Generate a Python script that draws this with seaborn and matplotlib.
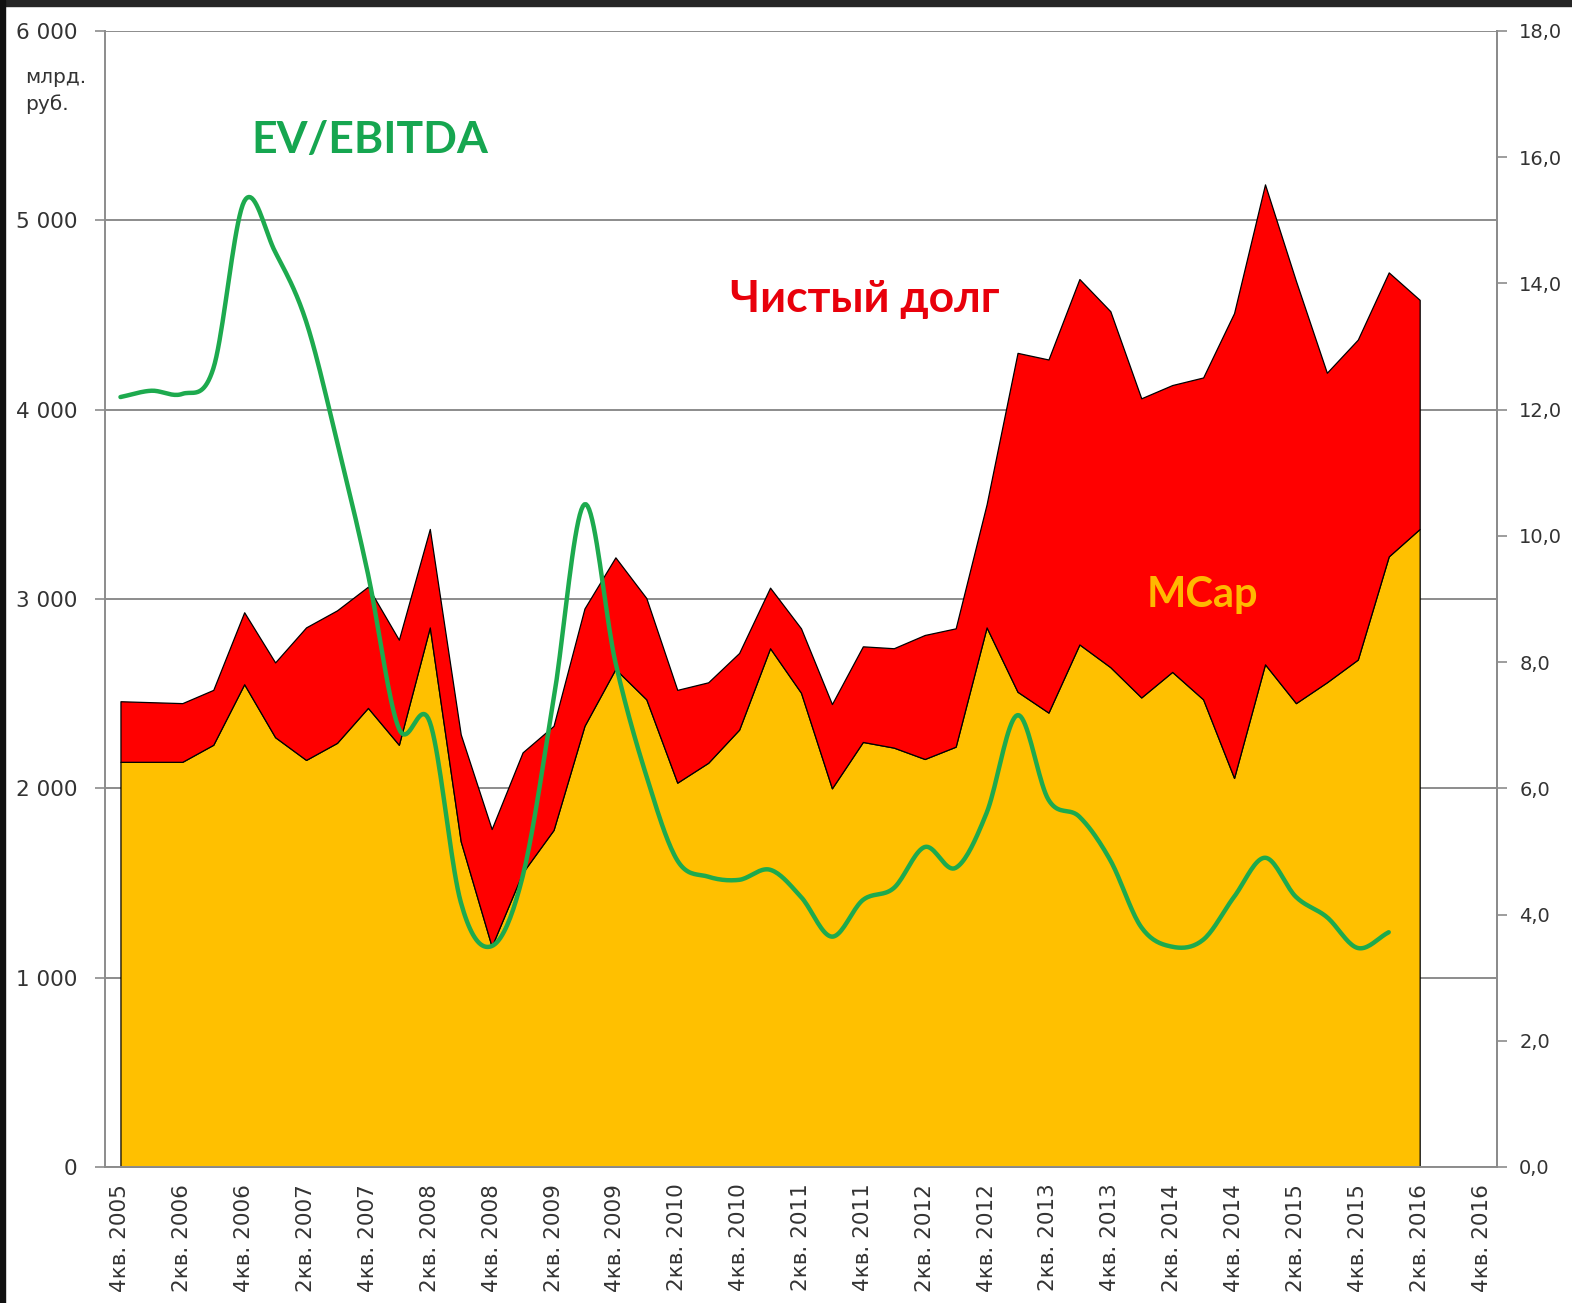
import numpy as np
import pandas as pd
import seaborn as sns
import matplotlib.pyplot as plt
from matplotlib.ticker import FixedLocator, FuncFormatter
from matplotlib.patches import Rectangle

# Кварталы с 4кв. 2005 по 4кв. 2016
quarters = []
for year in range(2005, 2017):
    for q in range(1, 5):
        if (year == 2005 and q < 4):
            continue
        quarters.append(f"{q}кв. {year}")

# Капитализация, млрд. руб.
mcap = [2140, 2140, 2140, 2230, 2550, 2270, 2150, 2240, 2425, 2230, 2850, 1720, 1165, 1555, 1780,
        2330, 2630, 2470, 2030, 2135, 2310, 2740, 2505, 2000, 2245, 2215, 2155, 2220, 2850, 2510,
        2400, 2760, 2640, 2480, 2615, 2470, 2055, 2655, 2450, 2560, 2680, 3225, 3370]

# Чистый долг, млрд. руб.
net_debt = [320, 315, 310, 290, 380, 395, 700, 700, 640, 555, 520, 565, 620, 635, 550,
            620, 590, 535, 490, 425, 405, 320, 340, 445, 505, 525, 655, 625, 650, 1790,
            1865, 1930, 1880, 1580, 1515, 1700, 2455, 2535, 2230, 1635, 1690, 1500, 1210]

# EV/EBITDA (правая ось)
ev_ebitda = [12.20, 12.30, 12.25, 12.65, 15.30, 14.50, 13.40, 11.50, 9.40, 6.95, 7.05, 4.20, 3.50, 4.60,
             7.40, 10.50, 8.00, 6.20, 4.86, 4.60, 4.55, 4.71, 4.28, 3.65, 4.23, 4.42, 5.07, 4.74,
             5.61, 7.16, 5.82, 5.55, 4.86, 3.80, 3.49, 3.60, 4.28, 4.90, 4.28, 3.96, 3.47, 3.72]

C_MCAP = "#FFC000"
C_DEBT = "#FF0000"
C_EV = "#1DAA4E"
C_GRID = "#8C8C8C"
C_TXT = "#333333"


def smooth(x, y, n=20):
    # сглаживание как у Excel (сплайн Катмулла-Рома)
    x = np.asarray(x, float)
    y = np.asarray(y, float)
    px = np.concatenate([[2 * x[0] - x[1]], x, [2 * x[-1] - x[-2]]])
    py = np.concatenate([[2 * y[0] - y[1]], y, [2 * y[-1] - y[-2]]])
    xs, ys = [], []
    t = np.linspace(0, 1, n, endpoint=False)
    for i in range(1, len(px) - 2):
        for p, out in ((px, xs), (py, ys)):
            p0, p1, p2, p3 = p[i - 1], p[i], p[i + 1], p[i + 2]
            out.append(0.5 * ((2 * p1) + (-p0 + p2) * t + (2 * p0 - 5 * p1 + 4 * p2 - p3) * t ** 2
                              + (-p0 + 3 * p1 - 3 * p2 + p3) * t ** 3))
    xs.append([x[-1]])
    ys.append([y[-1]])
    return np.concatenate(xs), np.concatenate(ys)


def main():
    sns.set_theme(style="white")
    plt.rcParams['font.family'] = ['DejaVu Sans']

    fig = plt.figure(figsize=(15.72, 13.03), dpi=100)
    fig.patch.set_facecolor("white")
    # тёмная рамка скриншота
    fig.patches.append(Rectangle((0, 1 - 6 / 1303), 1, 6 / 1303, transform=fig.transFigure,
                                 color="#262626", zorder=0))
    fig.patches.append(Rectangle((0, 0), 5 / 1572, 1, transform=fig.transFigure,
                                 color="#111111", zorder=0))

    ax = fig.add_axes([105 / 1572, 1 - 1167 / 1303, 1392 / 1572, 1136 / 1303])
    ax.set_facecolor("white")

    x = np.arange(len(mcap))
    ax.stackplot(x, mcap, net_debt, colors=[C_MCAP, C_DEBT],
                 edgecolor="black", linewidth=0.9, zorder=2)

    ax.set_xlim(-0.5, len(quarters) - 0.5)
    ax.set_ylim(0, 6000)
    ax.set_yticks(range(0, 6001, 1000))
    ax.yaxis.set_major_formatter(FuncFormatter(lambda v, p: f"{int(v):,}".replace(",", " ")))
    ax.grid(axis="y", color=C_GRID, linewidth=1.4)
    ax.set_axisbelow(True)

    ax.xaxis.set_major_locator(FixedLocator(np.arange(-0.5, len(quarters), 1.0)))
    ax.xaxis.set_major_formatter(FuncFormatter(lambda v, p: ""))
    ax.xaxis.set_minor_locator(FixedLocator(np.arange(0, len(quarters), 2)))
    ax.xaxis.set_minor_formatter(FuncFormatter(lambda v, p: quarters[int(round(v))]))
    ax.tick_params(axis="x", which="major", length=7, width=1.2, color=C_GRID, direction="out")
    ax.tick_params(axis="x", which="minor", length=0, pad=12, labelsize=15.5,
                   labelrotation=90, labelcolor=C_TXT)
    ax.tick_params(axis="y", length=7, width=1.2, color=C_GRID, direction="out",
                   pad=13, labelsize=15.5, labelcolor=C_TXT, left=True)

    for side in ["left", "bottom", "right"]:
        ax.spines[side].set_color(C_GRID)
        ax.spines[side].set_linewidth(1.4)
    ax.spines["top"].set_visible(False)

    # правая ось EV/EBITDA
    ax2 = ax.twinx()
    sx, sy = smooth(np.arange(len(ev_ebitda)), ev_ebitda)
    df_ev = pd.DataFrame({"x": sx, "ev": sy})
    sns.lineplot(data=df_ev, x="x", y="ev", ax=ax2, color=C_EV, linewidth=3.2,
                 sort=False, estimator=None, zorder=3)
    ax2.set_ylim(0, 18)
    ax2.set_yticks(np.arange(0, 18.1, 2))
    ax2.yaxis.set_major_formatter(FuncFormatter(lambda v, p: f"{v:.1f}".replace(".", ",")))
    ax2.tick_params(axis="y", length=7, width=1.2, color=C_GRID, direction="out",
                    pad=9, labelsize=14, labelcolor=C_TXT, right=True)
    ax2.set_xlabel("")
    ax2.set_ylabel("")
    for side in ["top", "left", "bottom"]:
        ax2.spines[side].set_visible(False)
    ax2.spines["right"].set_color(C_GRID)
    ax2.spines["right"].set_linewidth(1.4)

    # подписи рядов
    ax.text(8.07, 5356, "EV/EBITDA", color="#16A650", fontsize=32, fontweight="bold",
            family=["Lato", "DejaVu Sans"], ha="center", va="baseline", zorder=5)
    ax.text(24.07, 4516, "Чистый долг", color="#E8000B", fontsize=32, fontweight="bold",
            family=["Lato", "DejaVu Sans"], ha="center", va="baseline", zorder=5)
    ax.text(34.97, 2958, "MCap", color="#FFB800", fontsize=30, fontweight="bold",
            family=["Lato", "DejaVu Sans"], ha="center", va="baseline", zorder=5)

    fig.text(25 / 1572, 1 - 68 / 1303, "млрд.\nруб.", fontsize=14.5, color=C_TXT,
             ha="left", va="top", linespacing=1.45)

    fig.savefig("out.png", dpi=100, facecolor=fig.get_facecolor())
    plt.close(fig)


if __name__ == '__main__':
    main()
